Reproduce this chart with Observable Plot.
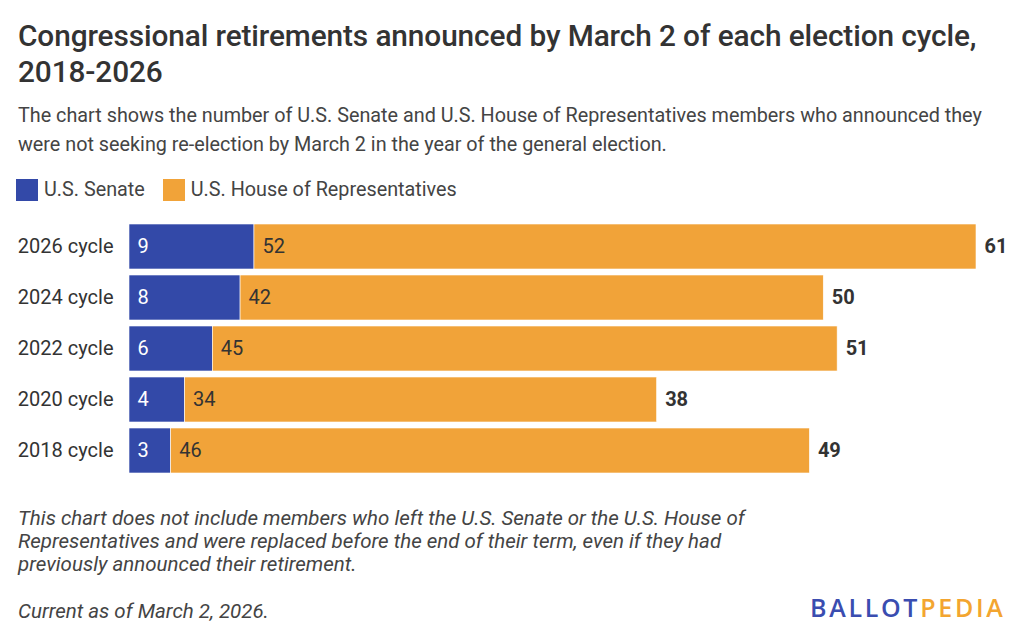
<!DOCTYPE html>
<html>
<head>
<meta charset="utf-8">
<script src="https://cdn.jsdelivr.net/npm/d3@7"></script>
<script src="https://cdn.jsdelivr.net/npm/@observablehq/plot@0.6"></script>
<style>
  html, body { margin: 0; padding: 0; background: #fff; }
  body { width: 1024px; height: 639px; position: relative; overflow: hidden; font-family: Roboto, sans-serif; color: #333; }
  .abs { position: absolute; white-space: nowrap; }
  #title { left: 18px; top: 18px; font-size: 29.8px; font-weight: 500; line-height: 36px; letter-spacing: -0.1px; color: #333; }
  #subtitle { left: 18px; top: 101px; font-size: 19.8px; line-height: 29px; color: #444; }
  #legend { left: 16px; top: 178px; font-size: 19.8px; color: #444; display: flex; align-items: center; }
  .sw { width: 22px; height: 22px; display: inline-block; margin-right: 6px; }
  .item { display: flex; align-items: center; margin-right: 18px; }
  #chart { left: 0; top: 210px; }
  #note { left: 18px; top: 507px; font-size: 20.5px; font-style: italic; line-height: 23px; color: #444; }
  #current { left: 18px; top: 599px; font-size: 20.5px; font-style: italic; color: #444; }
  #logo { left: 810px; top: 590px; font-family: "Open Sans", sans-serif; font-weight: 600; font-size: 25px; letter-spacing: 2.7px; }
</style>
</head>
<body>
<div id="title" class="abs">Congressional retirements announced by March 2 of each election cycle,<br>2018-2026</div>
<div id="subtitle" class="abs">The chart shows the number of U.S. Senate and U.S. House of Representatives members who announced they<br>were not seeking re-election by March 2 in the year of the general election.</div>
<div id="legend" class="abs"></div>
<div id="chart" class="abs"></div>
<div id="note" class="abs">This chart does not include members who left the U.S. Senate or the U.S. House of<br>Representatives and were replaced before the end of their term, even if they had<br>previously announced their retirement.</div>
<div id="current" class="abs">Current as of March 2, 2026.</div>
<div id="logo" class="abs"><span style="color:#3a4db0">BALLOT</span><span style="color:#f3a530">PEDIA</span></div>
<script>
const cycles = ["2026 cycle", "2024 cycle", "2022 cycle", "2020 cycle", "2018 cycle"];
const series = ["U.S. Senate", "U.S. House of Representatives"];
const senate = [9, 8, 6, 4, 3];
const house = [52, 42, 45, 34, 46];
const colors = ["#3349a8", "#f1a339"];

const data = [];
cycles.forEach((c, i) => {
  data.push({cycle: c, series: series[0], value: senate[i]});
  data.push({cycle: c, series: series[1], value: house[i]});
});
const totals = cycles.map((c, i) => ({cycle: c, total: senate[i] + house[i]}));

// legend
const legend = document.getElementById("legend");
series.forEach((s, i) => {
  const it = document.createElement("div");
  it.className = "item";
  it.innerHTML = `<span class="sw" style="background:${colors[i]}"></span><span>${s}</span>`;
  legend.appendChild(it);
});

const chart = Plot.plot({
  width: 1024,
  height: 283,
  marginLeft: 129,
  marginRight: 0,
  marginTop: 14,
  marginBottom: 20,
  style: {fontFamily: "Roboto, sans-serif", fontSize: "20px", color: "#333"},
  x: {domain: [0, 61], range: [129, 976], axis: null},
  y: {domain: cycles, paddingInner: 0.12, paddingOuter: 0, align: 0, label: null, tickSize: 0, tickPadding: 16},
  color: {domain: series, range: colors},
  marks: [
    Plot.barX(data, Plot.stackX({x: "value", y: "cycle", z: "series", fill: "series", order: null, stroke: "#fff", strokeWidth: 0.6})),
    Plot.text(data, Plot.stackX1({x: "value", y: "cycle", z: "series", order: null, text: "value", textAnchor: "start", dx: 8,
      fill: d => d.series === series[0] ? "#ffffff" : "#333333", fontSize: 20})),
    Plot.text(totals, {x: "total", y: "cycle", text: "total", textAnchor: "start", dx: 8, fontWeight: "bold", fontSize: 20, fill: "#333"})
  ]
});
chart.style.overflow = "visible";
document.getElementById("chart").appendChild(chart);
chart.querySelectorAll("[aria-label='y-axis tick label'] text").forEach(t => { t.setAttribute("fill", "#333"); });
</script>
</body>
</html>
